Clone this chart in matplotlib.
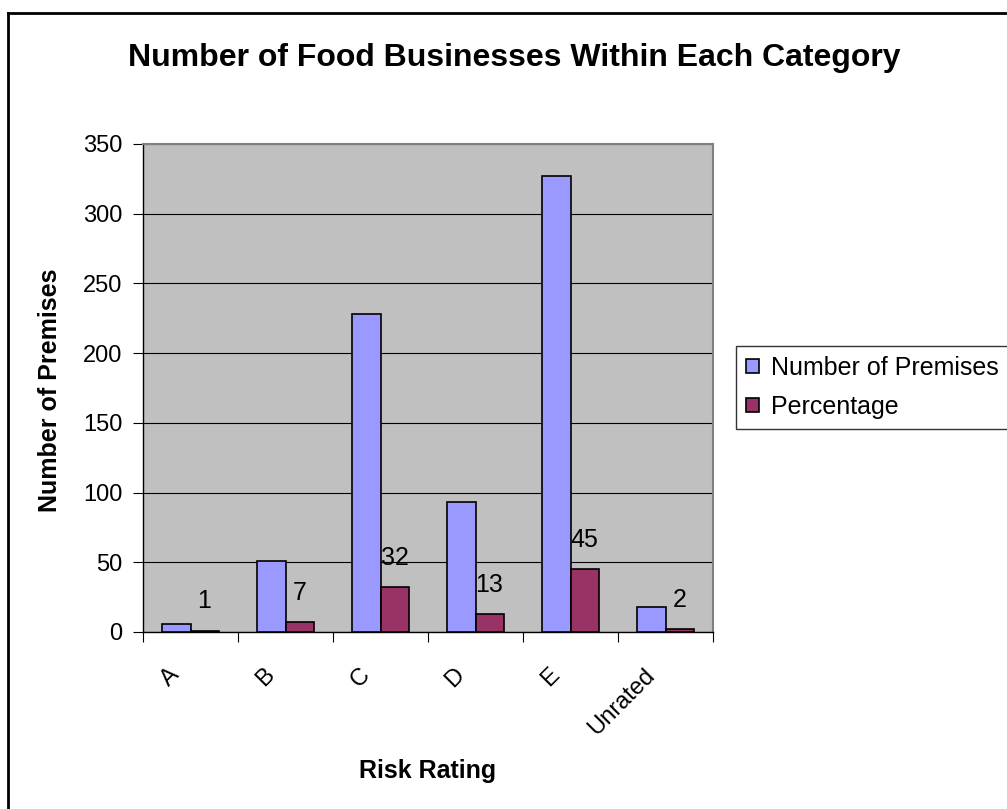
import matplotlib
matplotlib.use("Agg")
import matplotlib.pyplot as plt
import matplotlib.transforms as mtrans
import numpy as np
from matplotlib.lines import Line2D

categories = ["A", "B", "C", "D", "E", "Unrated"]
premises = [6, 51, 228, 93, 327, 18]
percentage = [1, 7, 32, 13, 45, 2]
yticks = [0, 50, 100, 150, 200, 250, 300, 350]

plt.rcParams['font.family'] = ['Liberation Sans', 'DejaVu Sans']

W, H = 1007, 809
fig = plt.figure(figsize=(W/100, H/100), dpi=100)
ax = fig.add_axes([143/W, 1 - 632/H, (713-143)/W, (632-144)/H])
ax.set_facecolor("#C0C0C0")

x = np.arange(len(categories))
w = 0.295
b1 = ax.bar(x - w/2, premises, w, color="#9999FF", edgecolor="black", linewidth=1.2,
            label="Number of Premises", zorder=3)
b2 = ax.bar(x + w/2, percentage, w, color="#993366", edgecolor="black", linewidth=1.2,
            label="Percentage", zorder=3)
for xi, v in zip(x, percentage):
    ax.annotate(str(v), (xi + w/2, v), xytext=(0, 21), textcoords="offset points",
                ha="center", va="center", fontsize=18)

ax.set_xlim(-0.5, len(categories) - 0.5)
ax.set_ylim(0, 350)
ax.set_yticks(yticks)
ax.set_yticklabels([str(t) for t in yticks], fontsize=17)
ax.yaxis.grid(True, color="black", linewidth=0.8, zorder=0)
ax.set_axisbelow(True)

ax.set_xticks(np.arange(len(categories) + 1) - 0.5, minor=False)
ax.set_xticklabels([""] * (len(categories) + 1))
ax.set_xticks(x, minor=True)
ax.set_xticklabels(categories, minor=True, rotation=45, ha="right", va="top",
                   rotation_mode="anchor", fontsize=17)
ax.tick_params(axis="x", which="minor", length=0, pad=23)
ax.tick_params(axis="x", which="major", length=7, direction="out", color="black")
ax.tick_params(axis="y", length=7, direction="out", color="black", pad=8)
shift = mtrans.ScaledTranslation(-22/100, 0, fig.dpi_scale_trans)
for lab in ax.get_xticklabels(minor=True):
    lab.set_transform(lab.get_transform() + shift)

for s in ["top", "right"]:
    ax.spines[s].set_color("#808080")
    ax.spines[s].set_linewidth(1.5)
for s in ["left", "bottom"]:
    ax.spines[s].set_color("black")
    ax.spines[s].set_linewidth(1.0)

fig.text(50/W, 1 - 390/H, "Number of Premises", rotation=90, ha="center", va="center",
         fontsize=18, fontweight="bold")
fig.text(428/W, 1 - 771/H, "Risk Rating", ha="center", va="center",
         fontsize=18, fontweight="bold")
fig.text(514/W, 1 - 58/H, "Number of Food Businesses Within Each Category",
         ha="center", va="center", fontsize=23, fontweight="bold")

leg = fig.legend(handles=[b1, b2], loc="upper left",
                 bbox_to_anchor=(736/W, 1 - 346/H), fontsize=18,
                 frameon=True, fancybox=False, edgecolor="black",
                 handlelength=0.5, handleheight=0.5, handletextpad=0.5,
                 borderaxespad=0, labelspacing=0.6, borderpad=0.4)
leg.get_frame().set_linewidth(1.0)

# outer chart border (left and top visible)
fig.add_artist(Line2D([8/W, 8/W], [0, 1 - 13/H], transform=fig.transFigure,
                      color="black", linewidth=2))
fig.add_artist(Line2D([8/W, 1], [1 - 13/H, 1 - 13/H], transform=fig.transFigure,
                      color="black", linewidth=2))

fig.savefig("out.png", dpi=100)
